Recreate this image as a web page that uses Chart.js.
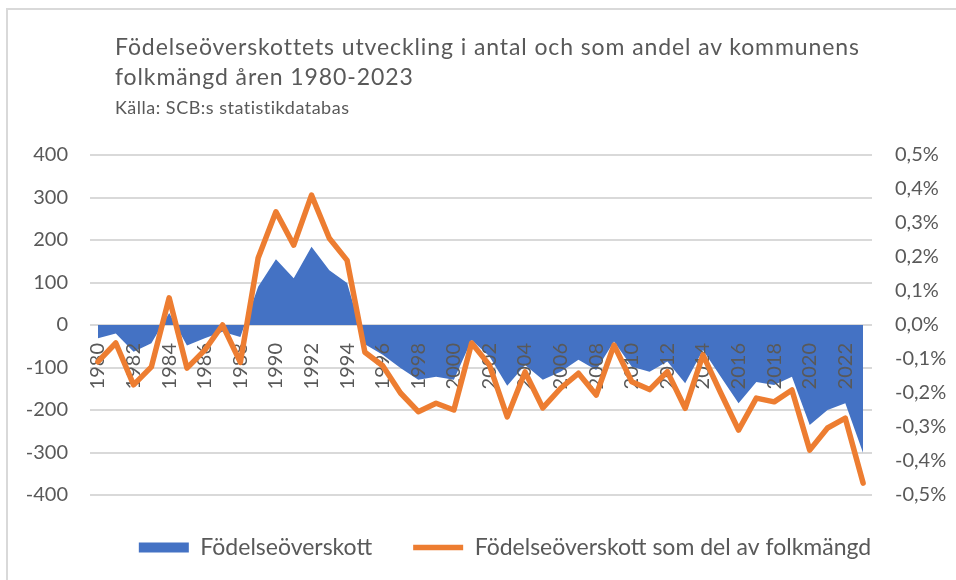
<!DOCTYPE html>
<html>
<head>
<meta charset="utf-8">
<script src="https://cdn.jsdelivr.net/npm/chart.js@4"></script>
<style>
  html, body { margin: 0; padding: 0; background: #fff; }
  body { width: 956px; height: 580px; position: relative; overflow: hidden; font-family: Lato, sans-serif; }
  #frame { position: absolute; left: 6px; top: 8px; width: 1000px; height: 600px; border-left: 2px solid #d9d9d9; border-top: 2px solid #d9d9d9; }
  #title { position: absolute; left: 115px; top: 31px; color: #595959; font-size: 23px; line-height: 30px; letter-spacing: 0.9px; }
  #subtitle { position: absolute; left: 115px; top: 96px; color: #595959; font-size: 18px; line-height: 22px; letter-spacing: 0.5px; }
  #wrap { position: absolute; left: 0; top: 0; width: 988px; height: 580px; }
</style>
</head>
<body>
<div id="frame"></div>
<div id="wrap"><canvas id="myChart" width="988" height="580"></canvas></div>
<div id="title">Födelseöverskottets utveckling i antal och som andel av kommunens<br>folkmängd åren 1980-2023</div>
<div id="subtitle">Källa: SCB:s statistikdatabas</div>
<script>
const years = [1980, 1981, 1982, 1983, 1984, 1985, 1986, 1987, 1988, 1989,
    1990, 1991, 1992, 1993, 1994, 1995, 1996, 1997, 1998, 1999,
    2000, 2001, 2002, 2003, 2004, 2005, 2006, 2007, 2008, 2009,
    2010, 2011, 2012, 2013, 2014, 2015, 2016, 2017, 2018, 2019,
    2020, 2021, 2022, 2023];

// födelseöverskott, antal personer
const antal = [-31, -20, -63, -43, 28, -48, -31, -16, -28, 90,
    155, 110, 184, 129, 99, -45, -70, -101, -129, -122,
    -129, -35, -74, -143, -94, -129, -110, -82, -106, -39,
    -98, -110, -86, -137, -59, -122, -184, -134, -141, -122,
    -235, -200, -184, -301];

// födelseöverskott som andel av folkmängden, procent
const andel = [-0.108, -0.053, -0.176, -0.123, 0.08, -0.127, -0.074, 0.0, -0.11, 0.197,
    0.333, 0.235, 0.382, 0.255, 0.19, -0.08, -0.12, -0.2, -0.255, -0.23,
    -0.25, -0.053, -0.118, -0.27, -0.138, -0.244, -0.186, -0.142, -0.206, -0.059,
    -0.167, -0.19, -0.137, -0.245, -0.088, -0.2, -0.309, -0.215, -0.226, -0.191,
    -0.368, -0.303, -0.274, -0.465];

const leftTicks = [-400, 400, 100];
const rightTicks = [-0.5, 0.5, 0.1];

const grey = '#595959';

// årtalen ska ligga ovanpå ytan men under linjen
const yearLabelsBetween = {
    id: 'yearLabelsBetween',
    afterLayout(chart) {
        const sx = chart.scales.x;
        if (!sx._wrapped) {
            const orig = sx.drawLabels;
            sx.drawLabels = function (area) {
                if (this._labelsNow) orig.call(this, area);
            };
            sx._wrapped = true;
        }
    },
    afterDatasetDraw(chart, args) {
        if (args.index !== 0) return;
        const sx = chart.scales.x;
        sx._labelsNow = true;
        sx.drawLabels(chart.chartArea);
        sx._labelsNow = false;
    }
};

const ctx = document.getElementById('myChart').getContext('2d');
new Chart(ctx, {
    type: 'line',
    data: {
        datasets: [
            {
                label: 'Födelseöverskott',
                data: years.map((y, i) => ({ x: y, y: antal[i] })),
                yAxisID: 'y',
                backgroundColor: '#4472c4',
                borderColor: '#4472c4',
                borderWidth: 0,
                fill: 'origin',
                pointRadius: 0,
                pointStyle: 'rect',
                tension: 0,
                order: 1
            },
            {
                label: 'Födelseöverskott som del av folkmängd',
                data: years.map((y, i) => ({ x: y, y: andel[i] })),
                yAxisID: 'y2',
                borderColor: '#ed7d31',
                backgroundColor: '#ed7d31',
                borderWidth: 5.5,
                borderCapStyle: 'round',
                borderJoinStyle: 'round',
                fill: false,
                pointRadius: 0,
                pointStyle: 'line',
                tension: 0,
                order: 0
            }
        ]
    },
    plugins: [yearLabelsBetween],
    options: {
        responsive: false,
        animation: false,
        layout: { padding: { top: 155, left: 22, right: 0, bottom: 11 } },
        plugins: {
            title: { display: false },
            tooltip: { enabled: false },
            legend: {
                position: 'bottom',
                labels: {
                    usePointStyle: true,
                    pointStyleWidth: 50,
                    boxHeight: 10,
                    padding: 41,
                    color: grey,
                    font: { family: 'Lato', size: 23 },
                    sort: (a, b) => a.datasetIndex - b.datasetIndex
                }
            }
        },
        scales: {
            x: {
                type: 'linear',
                position: { y: 0 },
                min: 1979.55,
                max: 2023.5,
                grid: { display: false },
                border: { display: false },
                ticks: {
                    stepSize: 2,
                    includeBounds: false,
                    autoSkip: false,
                    minRotation: 90,
                    maxRotation: 90,
                    padding: 10,
                    color: grey,
                    font: { family: 'Lato', size: 20 },
                    callback: (v) => String(v)
                }
            },
            y: {
                position: 'left',
                min: leftTicks[0],
                max: leftTicks[1],
                afterFit: (s) => { s.width = 68; },
                grid: { color: '#d9d9d9', lineWidth: 2, drawTicks: false },
                border: { display: false },
                ticks: {
                    stepSize: leftTicks[2],
                    padding: 22,
                    color: grey,
                    font: { family: 'Lato', size: 20 }
                }
            },
            y2: {
                position: 'right',
                min: rightTicks[0],
                max: rightTicks[1],
                afterFit: (s) => { s.width = 116; },
                grid: { display: false, drawTicks: false },
                border: { display: false },
                ticks: {
                    stepSize: rightTicks[2],
                    padding: 23,
                    crossAlign: 'near',
                    color: grey,
                    font: { family: 'Lato', size: 20 },
                    callback: (v) => v.toFixed(1).replace('.', ',') + '%'
                }
            }
        }
    }
});
</script>
</body>
</html>
